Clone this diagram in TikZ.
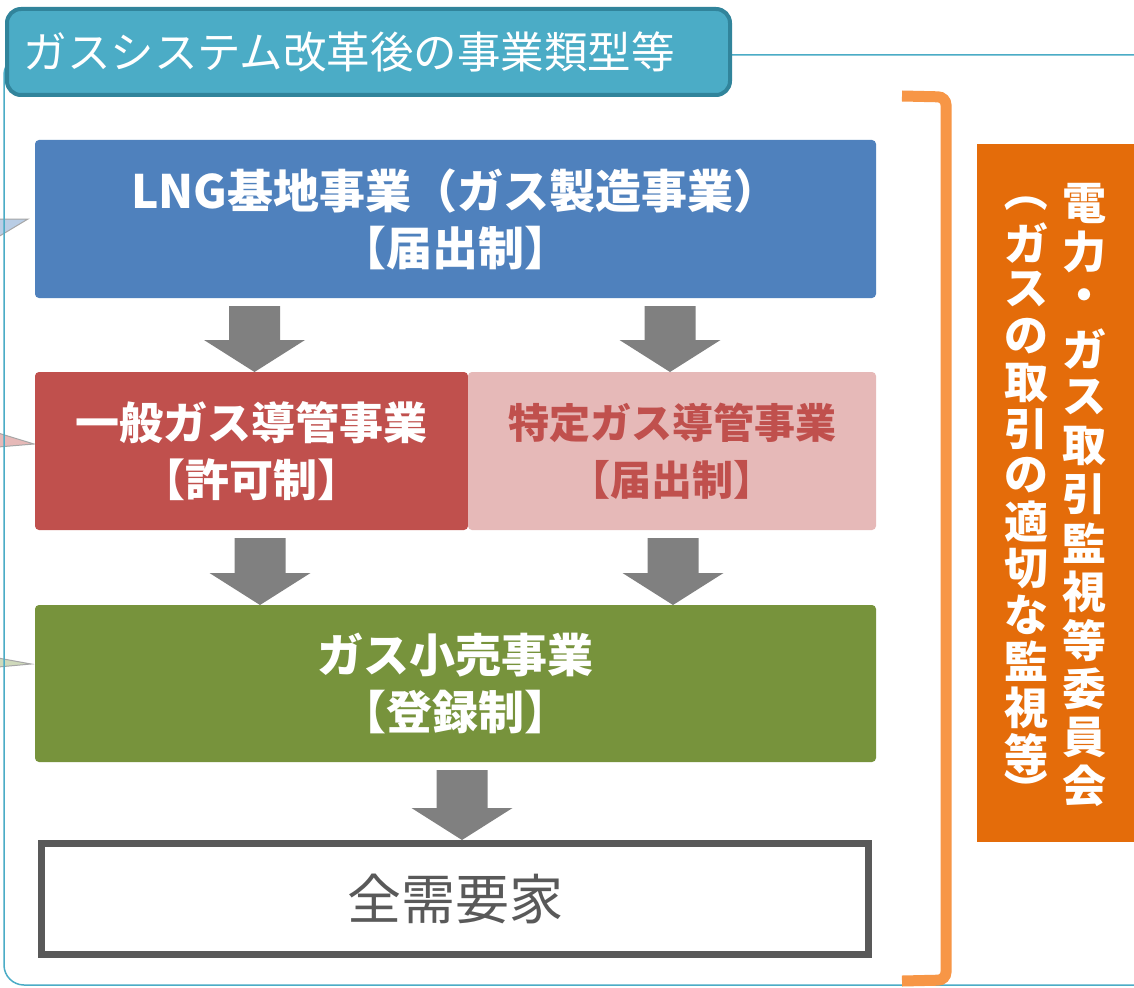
\documentclass[tikz,border=0pt]{standalone}
\usepackage{fontspec}
\usepackage{graphicx}
\setmainfont{Noto Sans CJK JP}
\usetikzlibrary{positioning,calc}

\definecolor{tabfill}{HTML}{4BACC6}
\definecolor{tabline}{HTML}{31849B}
\definecolor{lngblue}{HTML}{4F81BD}
\definecolor{pipered}{HTML}{C0504D}
\definecolor{pipepink}{HTML}{E6B9B8}
\definecolor{retailgreen}{HTML}{77933C}
\definecolor{arrgray}{HTML}{808080}
\definecolor{custgray}{HTML}{595959}
\definecolor{brkorange}{HTML}{F79646}
\definecolor{boxorange}{HTML}{E46C0A}

\tikzset{
  bizbox/.style={rectangle,rounded corners=4pt,outer sep=0pt,inner sep=0pt,align=center,
    text=white,font=\bfseries\fontsize{46}{57}\selectfont},
  vchar/.style={inner sep=0pt,text=white,font=\bfseries\fontsize{44}{44}\selectfont},
  pointer/.style={draw=gray!70,line width=1pt}
}

% block arrow between two boxes: from node, to node, x
\newcommand{\gasarrow}[3]{%
  \fill[arrgray] let \p1=(#1.south), \p2=(#2.north) in
    (#3pt-25.5pt,\y1-8pt) -- (#3pt+25.5pt,\y1-8pt) -- (#3pt+25.5pt,\y2+32pt)
    -- (#3pt+50.5pt,\y2+32pt) -- (#3pt,\y2) -- (#3pt-50.5pt,\y2+32pt)
    -- (#3pt-25.5pt,\y2+32pt) -- cycle;}

\begin{document}
\begin{tikzpicture}[x=1pt,y=-1pt]
\useasboundingbox[fill=white] (0,0) rectangle (1134,987);

% pointers from the left
\filldraw[pointer,fill=lngblue!40] (-2,219)--(28,219)--(-2,237);
\filldraw[pointer,fill=pipepink] (-2,433)--(34,444)--(-2,447);
\filldraw[pointer,fill=retailgreen!35] (-2,658)--(31,664)--(-2,667);

% frame and title tab
\draw[tabfill,line width=1.5pt,rounded corners=20pt] (4,55) rectangle (1170,985);
\node[rectangle,rounded corners=14pt,fill=tabfill,draw=tabline,line width=4pt,
  minimum width=723pt,minimum height=86pt,anchor=north west,text width=690pt,align=left,
  text=white,font=\fontsize{43.5}{43.5}\selectfont] (title) at (5,7) {ガスシステム改革後の事業類型等};

% business boxes
\node[bizbox,fill=lngblue,minimum width=841pt,minimum height=158pt] (lng) at (455.5,219)
  {LNG基地事業（ガス製造事業）\\【届出制】};
\node[bizbox,fill=pipered,minimum width=433pt,minimum height=158pt,
  font=\bfseries\fontsize{44}{57}\selectfont] (gen) at (251.5,451)
  {一般ガス導管事業\\【許可制】};
\node[bizbox,fill=pipepink,text=pipered,minimum width=408pt,minimum height=158pt,
  font=\bfseries\fontsize{41}{57}\selectfont] (spec) at (672,451)
  {特定ガス導管事業\\【届出制】};
\node[bizbox,fill=retailgreen,minimum width=841pt,minimum height=157pt] (retail) at (455.5,683.5)
  {ガス小売事業\\【登録制】};
\node[rectangle,draw=custgray,line width=7pt,fill=white,minimum width=827pt,minimum height=111pt,
  text=custgray,font=\fontsize{54}{54}\selectfont] (cust) at (455,899) {全需要家};

% arrows
\gasarrow{lng}{gen}{254.5}
\gasarrow{lng}{spec}{670}
\gasarrow{gen}{retail}{260}
\gasarrow{spec}{retail}{673}
\gasarrow{retail}{cust}{462}

% bracket and committee
\draw[brkorange,line width=11pt,rounded corners=8pt] (902,96)--(946,97)--(946,980)--(902,981);
\fill[boxorange] (977,144) rectangle (1140,842);
\foreach \ch [count=\i] in {電,力,・,ガ,ス,取,引,監,視,等,委,員,会}
  \node[vchar] (cr\i) at (1084,154.4+48.6*\i) {\ch};
\node[vchar] (lp) at (1026,190) {\rotatebox[origin=c]{-90}{（}};
\foreach \ch [count=\i] in {ガ,ス,の,取,引,の,適,切,な,監,視,等}
  \node[vchar] (cl\i) at (1026,196.5+46.5*\i) {\ch};
\node[vchar] (rp) at (1026,790) {\rotatebox[origin=c]{-90}{）}};

\node[font=\fontsize{30}{30}\selectfont] (page) at (1127,1000) {3};
\end{tikzpicture}
\end{document}
